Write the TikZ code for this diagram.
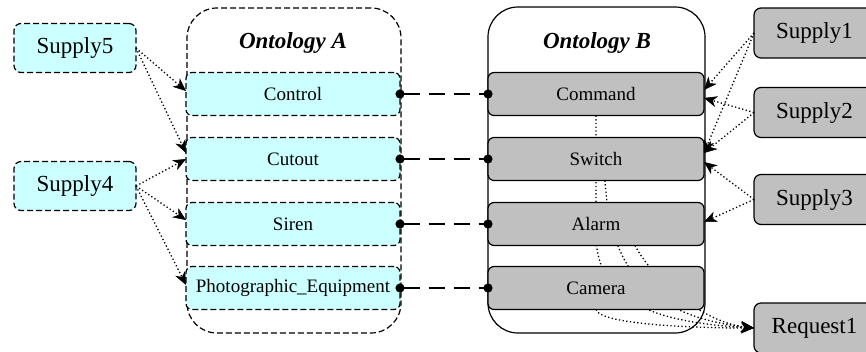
\documentclass[tikz,border=0pt]{standalone}
\usepackage{fontspec}
\setmainfont{Liberation Serif}
\usetikzlibrary{arrows.meta,backgrounds}
\definecolor{srccyan}{RGB}{204,255,255}
\definecolor{tgtgray}{RGB}{192,192,192}
\begin{document}
\begin{tikzpicture}[x=1pt,y=-1pt,
  clusterA/.style={rectangle,draw=black,rounded corners=30pt,line width=1.2pt,
    dash pattern=on 6pt off 3pt,outer sep=0,minimum width=214pt,
    minimum height=325pt},
  clusterB/.style={rectangle,draw=black,rounded corners=30pt,line width=1.2pt,
    outer sep=0,minimum width=217pt,
    minimum height=326pt},
  title/.style={font=\fontsize{23}{26}\selectfont\bfseries\itshape},
  supplyA/.style={rectangle,draw=black,fill=srccyan,rounded corners=7pt,
    line width=1.2pt,dash pattern=on 6pt off 3pt,outer sep=0,
    minimum width=122pt,minimum height=49pt,
    font=\fontsize{23}{26}\selectfont},
  supplyB/.style={rectangle,draw=black,fill=tgtgray,rounded corners=7pt,
    line width=1.2pt,outer sep=0,
    minimum width=121pt,minimum height=50pt,
    font=\fontsize{23}{26}\selectfont},
  conceptA/.style={rectangle,draw=black,fill=srccyan,rounded corners=6pt,
    line width=1.2pt,dash pattern=on 6pt off 3pt,outer sep=0,
    minimum width=214pt,minimum height=43pt,
    font=\fontsize{19}{22}\selectfont},
  conceptB/.style={rectangle,draw=black,fill=tgtgray,rounded corners=6pt,
    line width=1.2pt,outer sep=0,
    minimum width=216pt,minimum height=43pt,
    font=\fontsize{19}{22}\selectfont},
  match/.style={line width=2pt,dash pattern=on 16pt off 9pt,
    {Circle[length=9pt]}-{Circle[length=9pt]},
    shorten <=-4.5pt,shorten >=-4.5pt},
  supplies/.style={line width=1.3pt,dash pattern=on 1.3pt off 2.4pt,
    arrows={-Stealth[length=13pt,width=11pt,inset=4pt,line width=0.5pt]}}]
  \useasboundingbox (0,0) rectangle (866,351);
  \node[clusterA] (ontA) at (294,170.5) {};
  \node[clusterB] (ontB) at (596.5,170) {};
  \node[title] (titleA) at (293,43) {Ontology A};
  \node[title] (titleB) at (597,43) {Ontology B};
  \node[supplyA] (supply5) at (75,48) {Supply5};
  \node[supplyA] (supply4) at (75,186) {Supply4};
  \node[conceptA] (control) at (293,94) {Control};
  \node[conceptA] (cutout) at (293,159) {Cutout};
  \node[conceptA] (siren) at (293,224) {Siren};
  \node[conceptA] (photo) at (293,288) {Photographic\_Equipment};
  \node[conceptB] (command) at (596,94) {Command};
  \node[conceptB] (switch) at (596,159) {Switch};
  \node[conceptB] (alarm) at (596,224) {Alarm};
  \node[conceptB] (camera) at (596,288) {Camera};
  \node[supplyB] (supply1) at (814.5,33) {Supply1};
  \node[supplyB] (supply2) at (814.5,112.5) {Supply2};
  \node[supplyB] (supply3) at (814.5,199.5) {Supply3};
  \node[supplyB] (request1) at (814.5,328) {Request1};
  \draw[match] (control) -- (command);
  \draw[match] (cutout) -- (switch);
  \draw[match] (siren) -- (alarm);
  \draw[match] (photo) -- (camera);
  \draw[supplies] (supply5.east) -- ([yshift=3pt]control.west);
  \draw[supplies] (supply5.east) -- ([yshift=6pt]cutout.west);
  \draw[supplies] (supply4.east) -- (cutout.west);
  \draw[supplies] (supply4.east) -- ([yshift=4pt]siren.west);
  \draw[supplies] (supply4.east) -- ([yshift=3pt]photo.west);
  \draw[supplies] (supply1.west) -- ([yshift=4pt]command.east);
  \draw[supplies] (supply1.west) -- ([yshift=6pt]switch.east);
  \draw[supplies] (supply2.west) -- ([yshift=-4pt]command.east);
  \draw[supplies] (supply2.west) -- ([yshift=6pt]switch.east);
  \draw[supplies] (supply3.west) -- ([yshift=-3pt]switch.east);
  \draw[supplies] (supply3.west) -- ([yshift=2pt]alarm.east);
  \begin{pgfonlayer}{background}
  \draw[supplies] (command.south) -- (596,240) .. controls (600,300) and (650,322) .. (request1.west);
  \draw[supplies] ([xshift=9pt]switch.south) .. controls (610,260) and (640,315) .. (request1.west);
  \draw[supplies] ([xshift=39pt]alarm.south) .. controls (650,275) and (700,322) .. (request1.west);
  \draw[supplies] (camera.south) .. controls (600,325) and (700,328) .. (request1.west);
  \end{pgfonlayer}
\end{tikzpicture}
\end{document}
